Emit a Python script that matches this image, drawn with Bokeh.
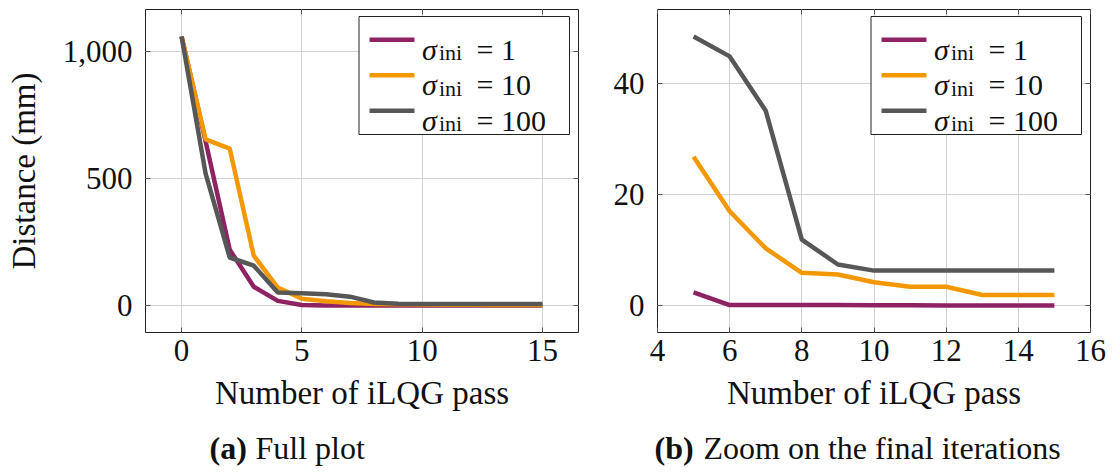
from bokeh.plotting import figure
from bokeh.models import (Range1d, FixedTicker, NumeralTickFormatter, LinearAxis,
                          CustomJSTickFormatter, BoxAnnotation, Label)
from bokeh.layouts import column, row
from bokeh.core.properties import value
from bokeh.embed import file_html
from bokeh.resources import INLINE

# ---------------- data ----------------
iterations = list(range(16))
sigma_values = [1, 10, 100]
dist_sigma1 = [1058, 645, 220, 74, 18.5, 2.4, 0.1, 0.1, 0.1, 0.1, 0.08, 0.05, 0.0, 0.0, 0.0, 0.0]
dist_sigma10 = [1058, 653, 617, 196, 71, 26.8, 17.0, 10.3, 5.9, 5.6, 4.2, 3.4, 3.4, 1.9, 1.9, 1.9]
dist_sigma100 = [1058, 519, 189, 157, 51, 48.5, 44.9, 35.1, 11.9, 7.4, 6.3, 6.3, 6.3, 6.3, 6.3, 6.3]
zoom_first_iteration = 5

full_x_ticks = [0, 5, 10, 15]
full_y_ticks = [0, 500, 1000]
zoom_x_ticks = [4, 6, 8, 10, 12, 14, 16]
zoom_y_ticks = [0, 20, 40]

x_label = "Number of iLQG pass"
y_label = "Distance (mm)"
legend_symbol = "σ"
legend_subscript = "ini"
caption_tags = ["(a)", "(b)"]
caption_texts = ["Full plot", "Zoom on the final iterations"]

colors = ["#8e2263", "#f39800", "#575757"]

FONT = "Liberation Serif"
TICK_SIZE = "31px"
LABEL_SIZE = "33px"
INK = "#111111"


def enlarged(lo, hi, frac=0.1):
    pad = (hi - lo) * frac
    return lo - pad, hi + pad


def style_axes(p, xt, yt, yfmt=None):
    p.xaxis.ticker = FixedTicker(ticks=xt)
    p.yaxis.ticker = FixedTicker(ticks=yt)
    if yfmt is not None:
        p.yaxis.formatter = yfmt
    for ax in p.xaxis + p.yaxis:
        ax.axis_line_color = None
        ax.major_tick_in = 5
        ax.major_tick_out = 0
        ax.major_tick_line_color = "#555555"
        ax.minor_tick_line_color = None
        ax.major_label_text_font = FONT
        ax.major_label_text_font_size = TICK_SIZE
        ax.major_label_text_color = INK
        ax.axis_label_text_font = FONT
        ax.axis_label_text_font_size = LABEL_SIZE
        ax.axis_label_text_font_style = "normal"
        ax.axis_label_text_color = INK
    p.xaxis.major_label_standoff = 7
    p.yaxis.major_label_standoff = 13
    # mirrored inward ticks on top and right
    blank = CustomJSTickFormatter(code="return ''")
    top = LinearAxis(ticker=FixedTicker(ticks=xt), formatter=blank, axis_line_color=None,
                     major_tick_in=5, major_tick_out=0, major_tick_line_color="#555555",
                     minor_tick_line_color=None, major_label_standoff=0)
    right = LinearAxis(ticker=FixedTicker(ticks=yt), formatter=blank, axis_line_color=None,
                       major_tick_in=5, major_tick_out=0, major_tick_line_color="#555555",
                       minor_tick_line_color=None, major_label_standoff=0)
    p.add_layout(top, "above")
    p.add_layout(right, "right")
    p.xgrid.ticker = FixedTicker(ticks=xt)
    p.ygrid.ticker = FixedTicker(ticks=yt)
    p.grid.grid_line_color = "#d2d2d2"
    p.grid.grid_line_width = 1
    p.outline_line_color = "#222222"
    p.outline_line_width = 1
    p.outline_line_alpha = 1


def add_lines(p, xs, ys_list):
    for ys, c in zip(ys_list, colors):
        p.line(xs, ys, line_color=c, line_width=4.5)


def add_legend(p):
    # legend box in screen units relative to the frame (origin bottom-left)
    scr = dict(left_units="screen", right_units="screen",
               top_units="screen", bottom_units="screen")
    p.add_layout(BoxAnnotation(left=213.5, right=424, top=316, bottom=198,
                               fill_color="white", fill_alpha=1,
                               line_color="#222222", line_width=1, line_alpha=1, **scr))
    pitch = 35.5
    for i, (c, v) in enumerate(zip(colors, sigma_values)):
        yc = 292.7 - pitch * i
        yb = 283.5 - pitch * i
        p.add_layout(BoxAnnotation(left=224, right=269, top=yc + 2.25, bottom=yc - 2.25,
                                   fill_color=c, fill_alpha=1, line_color=None, **scr))
        p.add_layout(Label(x=276.5, y=yb, x_units="screen", y_units="screen",
                           text=legend_symbol, text_font=FONT, text_font_style="italic",
                           text_font_size="30px", text_baseline="alphabetic",
                           text_color=INK))
        p.add_layout(Label(x=293.5, y=yb - 3.5, x_units="screen", y_units="screen",
                           text=legend_subscript, text_font=FONT,
                           text_font_size="22px", text_baseline="alphabetic",
                           text_color=INK))
        p.add_layout(Label(x=331, y=yb, x_units="screen", y_units="screen",
                           text=f"= {v}", text_font=FONT,
                           text_font_size="30px", text_baseline="alphabetic",
                           text_color=INK))


all_full = dist_sigma1 + dist_sigma10 + dist_sigma100
x0, x1 = enlarged(min(iterations), max(iterations))
y0, y1 = enlarged(min(all_full), max(all_full))

p1 = figure(width=590, height=420, output_backend="svg", toolbar_location=None,
            x_range=Range1d(x0, x1), y_range=Range1d(y0, y1),
            min_border_left=145, min_border_right=12, min_border_top=9, min_border_bottom=88)
style_axes(p1, full_x_ticks, full_y_ticks, NumeralTickFormatter(format="0,0"))
p1.below[0].axis_label = x_label
p1.left[0].axis_label = y_label
p1.below[0].axis_label_standoff = 11
p1.left[0].axis_label_standoff = 18
add_lines(p1, iterations, [dist_sigma1, dist_sigma10, dist_sigma100])
add_legend(p1)

k = zoom_first_iteration
zx = iterations[k:]
zs = [dist_sigma1[k:], dist_sigma10[k:], dist_sigma100[k:]]
all_zoom = zs[0] + zs[1] + zs[2]
zx0, zx1 = enlarged(min(zx), max(zx))
zy0, zy1 = enlarged(min(all_zoom), max(all_zoom))

p2 = figure(width=524, height=420, output_backend="svg", toolbar_location=None,
            x_range=Range1d(zx0, zx1), y_range=Range1d(zy0, zy1),
            min_border_left=67, min_border_right=24, min_border_top=9, min_border_bottom=88)
style_axes(p2, zoom_x_ticks, zoom_y_ticks)
p2.below[0].axis_label = x_label
p2.below[0].axis_label_standoff = 11
add_lines(p2, zx, zs)
add_legend(p2)

# captions
cap = figure(width=1114, height=50, output_backend="svg", toolbar_location=None,
             x_range=Range1d(0, 1114), y_range=Range1d(0, 50),
             min_border=0, outline_line_color=None)
cap.axis.visible = False
cap.grid.visible = False
tag_x = [209, 654]
text_x = [255, 703]
cap.text(x=tag_x, y=[23, 23], text=caption_tags, text_font=value(FONT),
         text_font_size="32px", text_font_style="bold", text_baseline="middle",
         text_color=INK)
cap.text(x=text_x, y=[23, 23], text=caption_texts, text_font=value(FONT),
         text_font_size="32px", text_baseline="middle", text_color=INK)

layout = column(row(p1, p2), cap)
open("out.html", "w").write(file_html(layout, INLINE))
